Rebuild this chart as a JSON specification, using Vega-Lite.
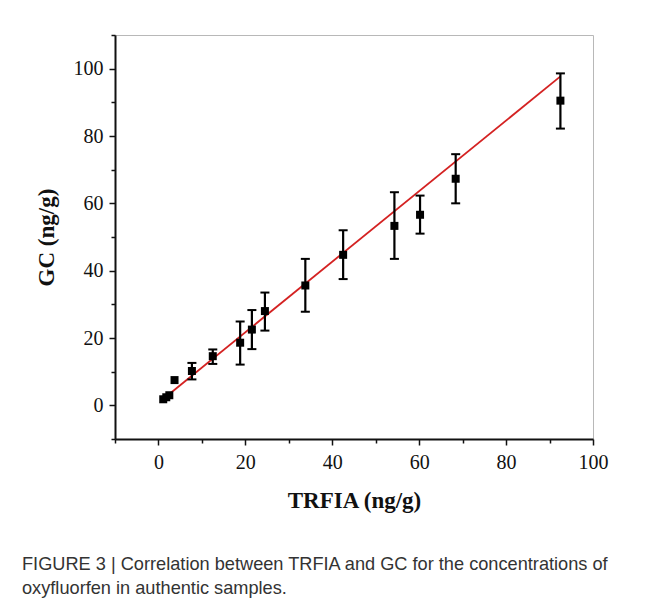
{
  "$schema": "https://vega.github.io/schema/vega-lite/v6.json",
  "width": 478,
  "height": 404,
  "autosize": {"type": "none"},
  "padding": {"left": 115, "top": 35, "right": 57, "bottom": 163},
  "background": "white",
  "config": {
    "view": {"stroke": "#b8b8b8", "strokeWidth": 1},
    "axis": {
      "grid": false,
      "domainColor": "#111",
      "domainWidth": 2,
      "tickColor": "#111",
      "tickWidth": 1.5,
      "labelFont": "Liberation Serif",
      "labelFontSize": 20,
      "labelColor": "#111",
      "labelFlush": false,
      "labelOverlap": false,
      "titleFont": "Liberation Serif",
      "titleFontSize": 23,
      "titleFontWeight": "bold",
      "titleColor": "#111"
    }
  },
  "title": {
    "text": ["FIGURE 3 | Correlation between TRFIA and GC for the concentrations of", "oxyfluorfen in authentic samples."],
    "orient": "bottom",
    "anchor": "start",
    "frame": "group",
    "dx": -93,
    "offset": 44,
    "font": "Liberation Sans",
    "fontSize": 18.2,
    "fontWeight": "normal",
    "color": "#333",
    "lineHeight": 24
  },
  "datasets": {
    "pts": [
      {"trfia": 1.1, "gc": 1.8, "lo": null, "hi": null},
      {"trfia": 1.8, "gc": 2.4, "lo": null, "hi": null},
      {"trfia": 2.5, "gc": 3.0, "lo": null, "hi": null},
      {"trfia": 3.7, "gc": 7.5, "lo": null, "hi": null},
      {"trfia": 7.7, "gc": 10.2, "lo": 7.7, "hi": 12.6},
      {"trfia": 12.5, "gc": 14.6, "lo": 12.3, "hi": 16.6},
      {"trfia": 18.8, "gc": 18.6, "lo": 12.1, "hi": 24.9},
      {"trfia": 21.5, "gc": 22.5, "lo": 16.7, "hi": 28.3},
      {"trfia": 24.5, "gc": 28.0, "lo": 22.2, "hi": 33.5},
      {"trfia": 33.8, "gc": 35.6, "lo": 27.8, "hi": 43.5},
      {"trfia": 42.5, "gc": 44.7, "lo": 37.5, "hi": 52.0},
      {"trfia": 54.3, "gc": 53.3, "lo": 43.5, "hi": 63.3},
      {"trfia": 60.2, "gc": 56.6, "lo": 51.0, "hi": 62.3},
      {"trfia": 68.4, "gc": 67.3, "lo": 60.0, "hi": 74.6},
      {"trfia": 92.5, "gc": 90.5, "lo": 82.2, "hi": 98.6}
    ],
    "fit": [
      {"trfia": 1.1, "gc": 1.9},
      {"trfia": 92.5, "gc": 97.7}
    ]
  },
  "encoding": {
    "x": {
      "field": "trfia",
      "type": "quantitative",
      "scale": {"domain": [-10, 100], "nice": false, "zero": false},
      "axis": {
        "title": "TRFIA (ng/g)",
        "values": [-10, 0, 10, 20, 30, 40, 50, 60, 70, 80, 90, 100],
        "labelExpr": "datum.value % 20 === 0 ? datum.label : ''",
        "tickSize": {"condition": {"test": "datum.value % 20 === 0", "value": 6}, "value": 4},
        "labelPadding": 7,
        "titlePadding": 17
      }
    },
    "y": {
      "field": "gc",
      "type": "quantitative",
      "scale": {"domain": [-10, 110], "nice": false, "zero": false},
      "axis": {
        "title": "GC (ng/g)",
        "values": [-10, 0, 10, 20, 30, 40, 50, 60, 70, 80, 90, 100, 110],
        "labelExpr": "datum.value % 20 === 0 ? datum.label : ''",
        "tickSize": {"condition": {"test": "datum.value % 20 === 0", "value": 6}, "value": 4},
        "labelPadding": 6,
        "titlePadding": 15
      }
    }
  },
  "layer": [
    {
      "data": {"name": "fit"},
      "mark": {"type": "line", "color": "#d42222", "strokeWidth": 1.8},
      "encoding": {}
    },
    {
      "data": {"name": "pts"},
      "mark": {"type": "rule", "color": "#000", "strokeWidth": 2.2},
      "encoding": {
        "y": {"field": "lo", "type": "quantitative"},
        "y2": {"field": "hi"}
      }
    },
    {
      "data": {"name": "pts"},
      "mark": {"type": "tick", "orient": "horizontal", "color": "#000", "size": 9, "thickness": 2, "opacity": 1},
      "encoding": {"y": {"field": "lo", "type": "quantitative"}}
    },
    {
      "data": {"name": "pts"},
      "mark": {"type": "tick", "orient": "horizontal", "color": "#000", "size": 9, "thickness": 2, "opacity": 1},
      "encoding": {"y": {"field": "hi", "type": "quantitative"}}
    },
    {
      "data": {"name": "pts"},
      "mark": {"type": "point", "shape": "square", "filled": true, "color": "#000", "size": 64, "opacity": 1},
      "encoding": {}
    }
  ]
}
